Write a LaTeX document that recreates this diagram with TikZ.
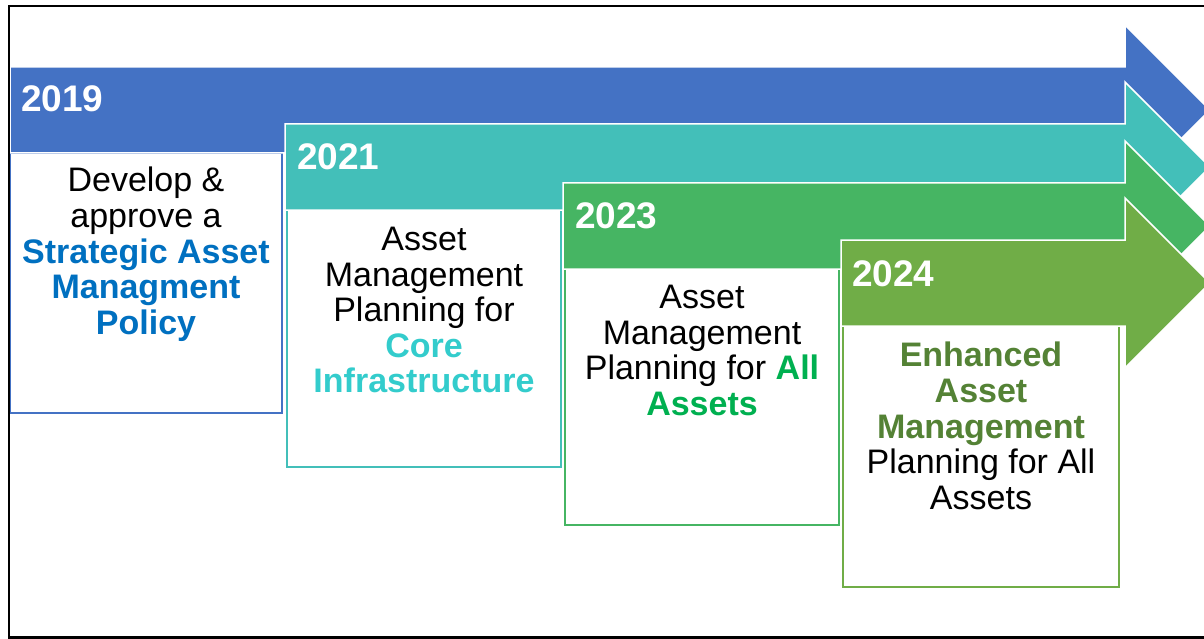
\documentclass[tikz,border=0pt]{standalone}
\usepackage{fontspec}
\setmainfont{Liberation Sans}
\usepackage{xcolor}
\usetikzlibrary{positioning}
\definecolor{arrowblue}{HTML}{4472C4}
\definecolor{arrowteal}{HTML}{43BFB9}
\definecolor{arrowgreen}{HTML}{46B563}
\definecolor{arrowolive}{HTML}{70AD47}
\definecolor{textblue}{HTML}{0070C0}
\definecolor{textteal}{HTML}{33CCCC}
\definecolor{textgreen}{HTML}{00B050}
\definecolor{textolive}{HTML}{548235}
\newcommand\hlblue[1]{\textcolor{textblue}{\bfseries #1}}
\newcommand\hlteal[1]{\textcolor{textteal}{\bfseries #1}}
\newcommand\hlgreen[1]{\textcolor{textgreen}{\bfseries #1}}
\newcommand\hlolive[1]{\textcolor{textolive}{\bfseries #1}}

\begin{document}
\begin{tikzpicture}[x=1pt,y=-1pt,
  yeararrow/.style={draw=white,line width=1.5pt},
  planbox/.style={fill=white,line width=2pt},
  yeartext/.style={anchor=base west,inner sep=0pt,text=white,font=\fontsize{37}{40}\selectfont\bfseries},
  plantext/.style={anchor=north,inner sep=0pt,align=center,font=\fontsize{34}{35.6}\selectfont}]
\useasboundingbox (0,0) rectangle (1204,639);
\clip (0,0) rectangle (1204,639);
% boxes under the bands
\draw[planbox,draw=arrowblue] (10,153) rectangle (282,413);
\draw[planbox,draw=arrowteal] (287,210) rectangle (561,467);
\draw[planbox,draw=arrowgreen] (565,269) rectangle (839,525);
\draw[planbox,draw=arrowolive] (843,326) rectangle (1119,587);
% arrows
\fill[yeararrow,fill=arrowblue] (10,67) -- (1125,67) -- (1125,25) -- (1210,110) -- (1125,195) -- (1125,153) -- (10,153) -- cycle;
\fill[yeararrow,fill=arrowteal] (285,124) -- (1125,124) -- (1125,82) -- (1210,167) -- (1125,252) -- (1125,210) -- (285,210) -- cycle;
\fill[yeararrow,fill=arrowgreen] (563,183) -- (1125,183) -- (1125,141) -- (1210,226) -- (1125,311) -- (1125,269) -- (563,269) -- cycle;
\fill[yeararrow,fill=arrowolive] (841,240) -- (1125,240) -- (1125,198) -- (1210,283) -- (1125,368) -- (1125,326) -- (841,326) -- cycle;
% years
\node (year19) [yeartext] at (21,112) {2019};
\node (year21) [yeartext] at (297,170) {2021};
\node (year23) [yeartext] at (575,229) {2023};
\node (year24) [yeartext] at (852,286) {2024};
% plans
\node (plan19) [plantext] at (146,167) {Develop \&\\approve a\\\hlblue{Strategic Asset}\\\hlblue{Managment}\\\hlblue{Policy}};
\node (plan21) [plantext] at (424,227) {Asset\\Management\\Planning for\\\hlteal{Core}\\\hlteal{Infrastructure}};
\node (plan23) [plantext] at (702,285) {Asset\\Management\\Planning for \hlgreen{All}\\\hlgreen{Assets}};
\node (plan24) [plantext] at (981,342) {\hlolive{Enhanced}\\\hlolive{Asset}\\\hlolive{Management}\\Planning for All\\Assets};
% frame
\draw[line width=2.5pt] (9,6) rectangle (1230,637.5);
\end{tikzpicture}
\end{document}
